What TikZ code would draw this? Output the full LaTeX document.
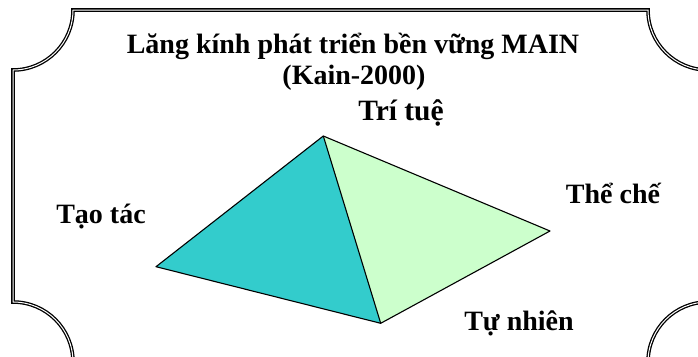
\documentclass[tikz,border=0pt]{standalone}
\usepackage{fontspec}
\setmainfont{Liberation Serif}
\definecolor{tealface}{HTML}{33CCCC}
\definecolor{greenface}{HTML}{CCFFCC}
\begin{document}
\begin{tikzpicture}[x=1pt,y=1pt,
  lbl/.style={font=\fontsize{28}{30}\selectfont\bfseries, anchor=base, inner sep=0pt},
  face/.style={draw=black, line width=1.1pt, line join=round},
  frame/.style={draw=black, line width=1.3pt, double=white, double distance=1pt}]
\useasboundingbox (0,0) rectangle (698,-356);
\begin{scope}
\clip (0,0) rectangle (698,-356);
\draw[frame] (73,-10) -- (648,-10) arc[start angle=180,end angle=270,radius=60]
  -- (708,-302) arc[start angle=90,end angle=180,radius=60]
  -- (73,-362) arc[start angle=0,end angle=90,radius=60]
  -- (13,-70) arc[start angle=270,end angle=360,radius=60] -- cycle;
\end{scope}
\coordinate (apex) at (323.3,-136);
\coordinate (left) at (156,-266.7);
\coordinate (bottom) at (380.7,-323.3);
\coordinate (right) at (550,-231);
\fill[greenface] (apex) -- (bottom) -- (right) -- cycle;
\fill[tealface] (apex) -- (left) -- (bottom) -- cycle;
\draw[face] (apex) -- (left) -- (bottom) -- (right) -- cycle;
\draw[face] (apex) -- (bottom);
\node[lbl] (t1) at (353,-53) {Lăng kính phát triển bền vững MAIN};
\node[lbl] (t2) at (354,-84) {(Kain-2000)};
\node[lbl, font=\fontsize{29.5}{31}\selectfont\bfseries] (tritue) at (401,-120) {Trí tuệ};
\node[lbl] (taotac) at (101,-223) {Tạo tác};
\node[lbl] (theche) at (613,-203) {Thể chế};
\node[lbl] (tunhien) at (519,-330) {Tự nhiên};
\end{tikzpicture}
\end{document}
